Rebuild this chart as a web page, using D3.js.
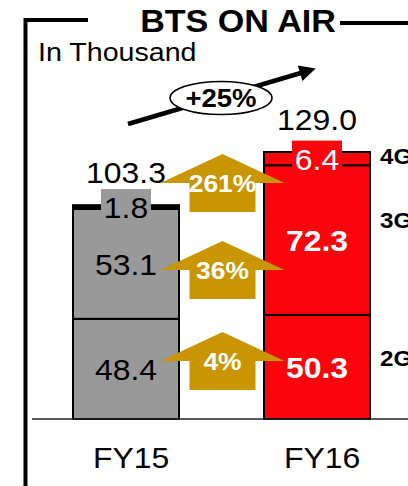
<!DOCTYPE html>
<html>
<head>
<meta charset="utf-8">
<script src="https://cdn.jsdelivr.net/npm/d3@7"></script>
<style>
  body { margin: 0; background: #fff; }
  text { font-family: "Liberation Sans", Arial, sans-serif; }
</style>
</head>
<body>
<div id="chart-area"></div>
<script>
// values in thousand BTS
var years = ["FY15", "FY16"];
var tech = ["2G", "3G", "4G"];
var fy15 = [48.4, 53.1, 1.8];
var fy16 = [50.3, 72.3, 6.4];
var totals = [103.3, 129.0];
var growth = ["4%", "36%", "261%"];
var growthAt = [28, 72, 114];   // where each growth arrow sits, in thousand
var trendLabel = "+25%";

var width = 408, height = 486;
var base = 419;

var svg = d3.select("#chart-area")
    .append("svg")
        .attr("width", width)
        .attr("height", height);

// text in the source looks a bit wide, so stretch it
function label(x, y, str, size, weight, fill, anchor) {
    return svg.append("text")
        .attr("transform", "translate(" + x + "," + y + ") scale(1.1,1)")
        .attr("text-anchor", anchor || "middle")
        .attr("font-size", size + "px")
        .attr("font-weight", weight || "normal")
        .attr("fill", fill || "#000")
        .text(str);
}

var x = d3.scaleBand()
    .domain(years)
    .range([73, 370])
    .paddingInner(0.445)
    .paddingOuter(0);

var y = d3.scaleLinear()
    .domain([0, d3.max(totals)])
    .range([base, 152]);

// frame
svg.append("line").attr("x1", 25.5).attr("x2", 25.5).attr("y1", 18).attr("y2", height)
    .attr("stroke", "#000").attr("stroke-width", 4);
svg.append("line").attr("x1", 24).attr("x2", 88).attr("y1", 20).attr("y2", 20)
    .attr("stroke", "#000").attr("stroke-width", 4);
svg.append("line").attr("x1", 340).attr("x2", width).attr("y1", 23).attr("y2", 23)
    .attr("stroke", "#000").attr("stroke-width", 4);

label(238, 32, "BTS ON AIR", 31, "bold");
label(38, 61, "In Thousand", 26, "normal", "#000", "start");

// stacked bars
var series = [fy15, fy16];
var colors = ["#999999", "#fa050b"];

series.forEach(function(vals, i) {
    var stack = [];
    var acc = 0;
    vals.forEach(function(v, j) {
        stack.push({ tech: tech[j], v: v, y0: acc, y1: acc + v });
        acc += v;
    });

    svg.selectAll("rect.s" + i)
        .data(stack)
        .enter()
        .append("rect")
            .attr("class", "s" + i)
            .attr("x", x(years[i]))
            .attr("width", x.bandwidth())
            .attr("y", function(d) { return y(d.y1); })
            .attr("height", function(d) { return y(d.y0) - y(d.y1); })
            // very thin segment just reads as a thick rule
            .attr("fill", function(d) { return y(d.y0) - y(d.y1) < 5 ? "#000" : colors[i]; })
            .attr("stroke", "#000")
            .attr("stroke-width", 2);

    var cx = x(years[i]) + x.bandwidth() / 2;
    stack.forEach(function(d, j) {
        var my = y((d.y0 + d.y1) / 2);
        var txt = d3.format(".1f")(d.v);
        if (j == 2) {
            // small top segment gets a box behind its label
            svg.append("rect")
                .attr("x", cx - 25)
                .attr("y", my - 18)
                .attr("width", 50)
                .attr("height", 32)
                .attr("fill", colors[i]);
            label(cx, my + 11, txt, 29, "normal", i == 0 ? "#000" : "#fff");
        } else {
            label(cx, my + 11, txt, 29, i == 0 ? "normal" : "bold", i == 0 ? "#000" : "#fff");
        }
    });

    label(cx, y(totals[i]) - 22, d3.format(".1f")(totals[i]), 29);
    label(cx + 5, 468, years[i], 29);
});

// tech names on the right of FY16
var acc16 = 0;
var techY = [];
fy16.forEach(function(v) { techY.push(y(acc16 + v / 2)); acc16 += v; });
label(380, techY[0] - 1, tech[0], 22, "bold", "#000", "start");
label(380, techY[1] - 12, tech[1], 22, "bold", "#000", "start");
label(380, techY[2] + 5, tech[2], 22, "bold", "#000", "start");

// growth arrows between the bars
var ax = (x("FY15") + x.bandwidth() + x("FY16")) / 2 + 1;
growth.forEach(function(g, k) {
    var cy = y(growthAt[k]);
    var pts = [
        [ax, cy - 29], [ax + 62, cy], [ax + 33, cy], [ax + 33, cy + 29],
        [ax - 33, cy + 29], [ax - 33, cy], [ax - 62, cy]
    ];
    svg.append("polygon")
        .attr("points", pts.map(function(p) { return p.join(","); }).join(" "))
        .attr("fill", "#c99600");
    label(ax, cy + 9, g, 24, "bold", "#fff");
});

// baseline
svg.append("line")
    .attr("x1", 32).attr("x2", width)
    .attr("y1", base).attr("y2", base)
    .attr("stroke", "#222").attr("stroke-width", 1.5);

// overall trend arrow
svg.append("defs").append("marker")
    .attr("id", "head")
    .attr("viewBox", "0 0 10 10")
    .attr("refX", 7).attr("refY", 5)
    .attr("markerWidth", 4).attr("markerHeight", 3.6)
    .attr("orient", "auto")
    .append("path")
        .attr("d", "M0,0 L10,5 L0,10 z")
        .attr("fill", "#000");

svg.append("line")
    .attr("x1", 128).attr("y1", 124)
    .attr("x2", 311).attr("y2", 70)
    .attr("stroke", "#000")
    .attr("stroke-width", 4.5)
    .attr("marker-end", "url(#head)");

svg.append("ellipse")
    .attr("cx", 221).attr("cy", 98)
    .attr("rx", 51).attr("ry", 16.5)
    .attr("fill", "#fff")
    .attr("stroke", "#000")
    .attr("stroke-width", 1.5);
label(221, 107, trendLabel, 25, "bold");
</script>
</body>
</html>
